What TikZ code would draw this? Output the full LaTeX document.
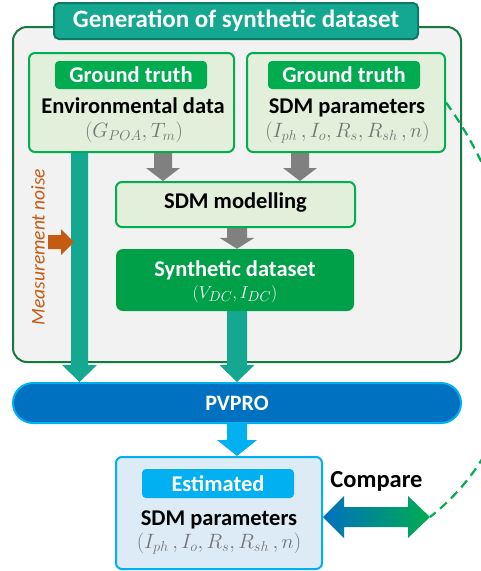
\documentclass[tikz,border=0pt]{standalone}
\usepackage{fontspec}
\setmainfont{Carlito}
\usetikzlibrary{arrows.meta,calc}
\definecolor{framefill}{HTML}{F2F2F2}
\definecolor{frameborder}{RGB}{22,122,62}
\definecolor{tealc}{RGB}{19,168,143}
\definecolor{titleborder}{RGB}{14,122,102}
\definecolor{lgfill}{HTML}{E2EFDA}
\definecolor{lgborder}{HTML}{00B050}
\definecolor{gtgreen}{RGB}{0,172,80}
\definecolor{synthgreen}{RGB}{0,160,72}
\definecolor{arrgray}{HTML}{808080}
\definecolor{pvblue}{HTML}{0070C0}
\definecolor{skyblue}{HTML}{00B0F0}
\definecolor{estfill}{HTML}{DDEBF7}
\definecolor{noiseorange}{HTML}{C55A11}
\definecolor{mathgray}{HTML}{747474}
\newcommand\blockdown[6]{%
  \fill[#6] let \p1=(#1), \p2=(#2) in
    (\x1-#3,\y1) -- (\x1+#3,\y1) -- (\x1+#3,\y2+#5) -- (\x1+#4,\y2+#5) -- (\x1,\y2)
    -- (\x1-#4,\y2+#5) -- (\x1-#3,\y2+#5) -- cycle;}
\begin{document}
\begin{tikzpicture}[x=1pt,y=-1pt,
  framebox/.style={draw=frameborder, fill=framefill, line width=2pt, rounded corners=14pt, inner sep=0pt},
  titlebox/.style={draw=titleborder, fill=tealc, line width=2pt, rounded corners=5pt, inner sep=0pt,
    text=white, font=\fontsize{25}{28}\selectfont\bfseries},
  lgbox/.style={draw=lgborder, fill=lgfill, line width=2pt, rounded corners=6pt, inner sep=0pt},
  tag/.style={fill=gtgreen, rounded corners=4pt, inner sep=0pt, text=white,
    font=\fontsize{22.5}{24}\selectfont\bfseries, minimum width=152pt, minimum height=28pt},
  bigtxt/.style={font=\fontsize{22.5}{24}\selectfont\bfseries, inner sep=0pt},
  mathtxt/.style={text=mathgray, font=\fontsize{20.5}{22}\selectfont, inner sep=0pt},
  dashline/.style={draw=gtgreen, line width=2.2pt, dash pattern=on 9pt off 6pt},
]
\clip (0,0) rectangle (481,571);
\fill[white] (0,0) rectangle (481,571);

% outer frame and title
\node[framebox, minimum width=448pt, minimum height=335pt] (frame) at (237,194.5) {};
\node[titlebox, minimum width=364pt, minimum height=36pt] (title) at (236,21) {Generation of synthetic dataset};

% ground truth boxes
\node[lgbox, minimum width=205pt, minimum height=99pt] (envbox) at (131.5,102.5) {};
\node[tag] (gt1) at (131,75) {Ground truth};
\node[bigtxt, anchor=base] (envtxt) at (133,113) {Environmental data};
\node[mathtxt, anchor=base] (envmath) at (134,137) {$(G_{POA}, T_m)$};

\node[lgbox, minimum width=198pt, minimum height=99pt] (sdmbox) at (346,102.5) {};
\node[tag] (gt2) at (344,75) {Ground truth};
\node[bigtxt, anchor=base] (sdmtxt) at (347,113) {SDM parameters};
\node[mathtxt, anchor=base] (sdmmath) at (347.5,137) {$(I_{ph}\,, I_o, R_s, R_{sh}\,, n)$};

% modelling and synthetic dataset
\node[lgbox, minimum width=239pt, minimum height=45pt] (model) at (235.5,204.5) {};
\node[bigtxt] (modeltxt) at (235.5,203) {SDM modelling};
\node[fill=synthgreen, rounded corners=7pt, minimum width=238pt, minimum height=62pt, inner sep=0pt] (synth) at (235,280) {};
\node[bigtxt, text=white, anchor=base] (synthtxt) at (235,276) {Synthetic dataset};
\node[font=\fontsize{19}{20}\selectfont, text=white, anchor=base, inner sep=0pt] (synthmath) at (235,298) {$(V_{DC}, I_{DC})$};

% gray arrows
\coordinate (xg1) at (163,0);
\coordinate (xg2) at (300,0);
\coordinate (xmid) at (237,0);
\coordinate (xleft) at (79.5,0);
\blockdown{envbox.south -| xg1}{model.north -| xg1}{9pt}{17pt}{13pt}{arrgray}
\blockdown{sdmbox.south -| xg2}{model.north -| xg2}{9pt}{17pt}{13pt}{arrgray}
\blockdown{model.south -| xmid}{synth.north -| xmid}{10pt}{17.5pt}{11pt}{arrgray}

% PVPRO
\node[draw=skyblue, fill=pvblue, line width=2pt, rounded corners=20pt, minimum width=448pt, minimum height=40pt,
  inner sep=0pt, text=white, font=\fontsize{22}{24}\selectfont\bfseries] (pvpro) at (237,403) {PVPRO};

% teal arrows
\blockdown{envbox.south -| xleft}{pvpro.north -| xleft}{8.5pt}{17.5pt}{17pt}{tealc}
\blockdown{synth.south -| xmid}{pvpro.north -| xmid}{10pt}{17.5pt}{17pt}{tealc}

% measurement noise
\node[rotate=90, text=noiseorange, font=\fontsize{19.5}{22}\selectfont\itshape, inner sep=0pt] (noise) at (38,247) {Measurement noise};
\coordinate (nzA) at (48,242);
\coordinate (nzB) at (74,242);
\fill[noiseorange] let \p1=(nzA), \p2=(nzB) in
  (\x1,\y1+7pt) -- (\x2-13pt,\y1+7pt) -- (\x2-13pt,\y1+13pt) -- (\x2,\y1) -- (\x2-13pt,\y1-13pt)
  -- (\x2-13pt,\y1-7pt) -- (\x1,\y1-7pt) -- cycle;

% estimated
\node[draw=skyblue, fill=estfill, line width=2pt, rounded corners=6pt, minimum width=206pt, minimum height=112pt, inner sep=0pt] (est) at (219,513) {};
\blockdown{pvpro.south -| xmid}{est.north -| xmid}{10pt}{20pt}{16pt}{skyblue}
\node[tag, fill=skyblue, minimum height=29pt] (estl) at (218,483.5) {Estimated};
\node[bigtxt, anchor=base] (esttxt) at (219,525) {SDM parameters};
\node[mathtxt, anchor=base] (estmath) at (219,548) {$(I_{ph}\,, I_o, R_s, R_{sh}\,, n)$};

% compare
\node[font=\fontsize{24.5}{28}\selectfont\bfseries, anchor=base, inner sep=0pt] (cmp) at (376.5,487) {Compare};
\coordinate (cmpR) at (430,517);
\shade[left color=pvblue, right color=gtgreen] let \p1=(est.east |- cmpR), \p2=(cmpR) in
  (\x1,\y1) -- (\x1+21pt,\y1+21pt) -- (\x1+21pt,\y1+10pt) -- (\x2-22pt,\y1+10pt) -- (\x2-22pt,\y1+21pt)
  -- (\x2,\y1) -- (\x2-22pt,\y1-21pt) -- (\x2-22pt,\y1-10pt) -- (\x1+21pt,\y1-10pt) -- (\x1+21pt,\y1-21pt) -- cycle;

% dashed comparison link
\draw[dashline] (sdmbox.east) .. controls (535,225) and (557,417) .. (cmpR);
\end{tikzpicture}
\end{document}
